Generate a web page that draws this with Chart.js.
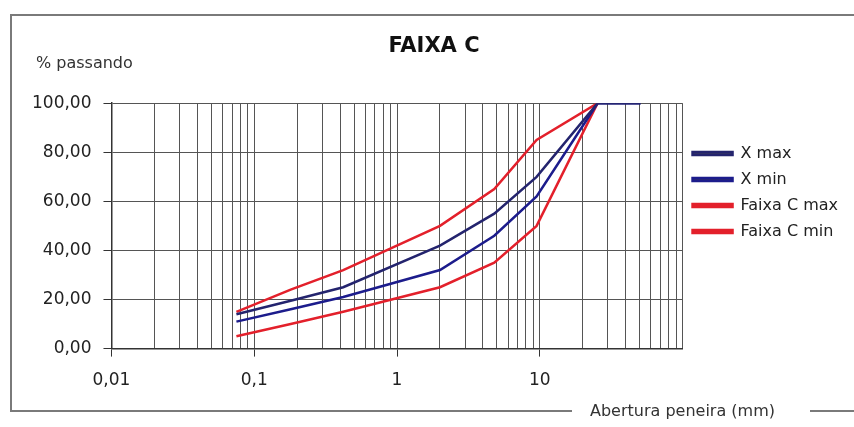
<!DOCTYPE html>
<html>
<head>
<meta charset="utf-8">
<script src="https://cdn.jsdelivr.net/npm/chart.js@4"></script>
<style>
  body { margin: 0; background: #fff; }
</style>
</head>
<body>
<canvas id="faixaC" width="854" height="427"></canvas>
<script>
// aberturas das peneiras (mm)
const peneiras = [0.075, 0.18, 0.42, 2.0, 4.8, 9.5, 25.4, 50.8];
const xMax = [14, 19.5, 25, 42, 55, 70, 100, 100];
const xMin = [11, 16, 21, 32, 46, 62, 100, 100];
const faixaCMax = [15, 24, 32, 50, 65, 85, 100, null];
const faixaCMin = [5, 10, 15, 25, 35, 50, 100, null];

const decadas = [0.01, 0.1, 1, 10];
const multiplos = [1, 2, 3, 4, 5, 6, 7, 8, 9];
const yTicks = [0, 20, 40, 60, 80, 100];

const fonte = 'DejaVu Sans';

function pontos(valores) {
  return peneiras.map((p, i) => ({ x: p, y: valores[i] }));
}

// moldura e textos soltos (% passando, Abertura peneira)
const moldura = {
  id: 'moldura',
  beforeDraw(chart) {
    const ctx = chart.ctx;
    ctx.save();
    ctx.fillStyle = '#fff';
    ctx.fillRect(0, 0, chart.width, chart.height);
    ctx.strokeStyle = '#7a7a7a';
    ctx.lineWidth = 2;
    ctx.beginPath();
    ctx.moveTo(854, 15); ctx.lineTo(11, 15); ctx.lineTo(11, 411); ctx.lineTo(572, 411);
    ctx.moveTo(810, 411); ctx.lineTo(854, 411);
    ctx.stroke();
    ctx.fillStyle = '#333';
    ctx.textBaseline = 'middle';
    ctx.font = '16px ' + fonte;
    ctx.fillText('% passando', 36, 64);
    ctx.fillText('Abertura peneira (mm)', 590, 412);
    ctx.restore();
  }
};

new Chart(document.getElementById('faixaC'), {
  type: 'line',
  data: {
    datasets: [
      { label: 'X max', data: pontos(xMax), borderColor: '#24246e', backgroundColor: '#3a3a5a' },
      { label: 'X min', data: pontos(xMin), borderColor: '#1c1c8c', backgroundColor: '#303060' },
      { label: 'Faixa C max', data: pontos(faixaCMax), borderColor: '#e3202b', backgroundColor: '#e3202b' },
      { label: 'Faixa C min', data: pontos(faixaCMin), borderColor: '#e3202b', backgroundColor: '#e3202b' }
    ]
  },
  options: {
    responsive: false,
    animation: false,
    elements: {
      line: { borderWidth: 2.5, tension: 0 },
      point: { radius: 0 }
    },
    layout: { padding: { left: 20, right: 6, bottom: 22 } },
    scales: {
      x: {
        type: 'logarithmic',
        min: 0.01,
        max: 100,
        afterBuildTicks: (scale) => {
          const t = [];
          decadas.forEach(d => multiplos.forEach(m => t.push({ value: +(d * m).toPrecision(3) })));
          t.push({ value: 100 });
          scale.ticks = t;
        },
        ticks: {
          autoSkip: false,
          maxRotation: 0,
          padding: 14,
          color: '#222',
          font: { family: fonte, size: 17 },
          callback: (v) => decadas.includes(v) ? String(v).replace('.', ',') : ''
        },
        grid: {
          color: '#555',
          lineWidth: 1,
          tickLength: 8,
          tickColor: (c) => decadas.includes(c.tick && c.tick.value) ? '#333' : 'rgba(0,0,0,0)'
        },
        border: { color: '#333', width: 1.5 }
      },
      y: {
        min: 0,
        max: 100,
        afterBuildTicks: (scale) => { scale.ticks = yTicks.map(v => ({ value: v })); },
        ticks: {
          padding: 12,
          color: '#222',
          font: { family: fonte, size: 17 },
          callback: (v) => v.toFixed(2).replace('.', ',')
        },
        grid: { color: '#555', lineWidth: 1, tickLength: 8, tickColor: '#333' },
        border: { color: '#333', width: 1.5 }
      }
    },
    plugins: {
      title: {
        display: true,
        text: 'FAIXA C',
        color: '#111',
        font: { family: fonte, size: 21, weight: 'bold' },
        padding: { top: 34, bottom: 44 }
      },
      legend: {
        position: 'right',
        align: 'start',
        title: { display: true, text: ' ', padding: 60, font: { size: 13 } },
        labels: {
          boxWidth: 40,
          boxHeight: 3,
          padding: 10,
          color: '#222',
          font: { family: fonte, size: 16 }
        }
      },
      tooltip: { enabled: false }
    }
  },
  plugins: [moldura]
});
</script>
</body>
</html>
